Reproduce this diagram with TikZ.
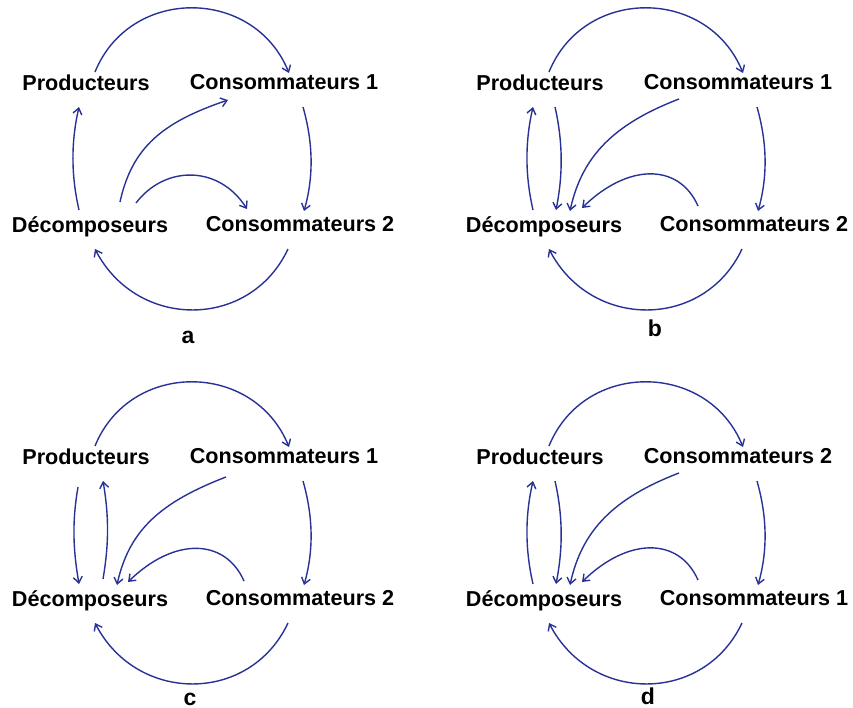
\documentclass[tikz,border=0pt]{standalone}
\usepackage{fontspec}
\setmainfont{Liberation Sans}
\usetikzlibrary{arrows.meta}
\definecolor{cyclebleu}{RGB}{40,50,150}

\begin{document}
\begin{tikzpicture}[x=0.5pt, y=0.5pt, >={Straight Barb[length=3pt,width=4.5pt]},
    etiq/.style={font=\bfseries\fontsize{10.8}{13}\selectfont, inner sep=0pt, text height=8pt, text depth=2.2pt},
    lettre/.style={font=\bfseries\fontsize{11.5}{13}\selectfont, inner sep=0pt},
    flux/.style={->, draw=cyclebleu, line width=0.7pt}]
    \useasboundingbox (0,0) rectangle (853,-708);

    % a
    \begin{scope}
        \node[etiq] (prodA) at (86,-85) {Producteurs};
        \node[etiq] (cons1A) at (284,-84) {Consommateurs 1};
        \node[etiq] (decA) at (90,-227) {Décomposeurs};
        \node[etiq] (cons2A) at (300,-226) {Consommateurs 2};
        \node[lettre] (labA) at (188,-337) {a};

        \draw[flux] ([shift={(9,13)}]prodA.center) .. controls +(35,86) and +(-35,86) .. ([shift={(5,11)}]cons1A.center);
        \draw[flux] ([shift={(19,-23)}]cons1A.center) .. controls +(10,-35) and +(10,35) .. ([shift={(4,15)}]cons2A.center);
        \draw[flux] ([shift={(-12,-23)}]cons2A.center) .. controls +(-38,-81) and +(42,-81) .. ([shift={(5,-22)}]decA.center);
        \draw[flux] ([shift={(-11,17)}]decA.center) .. controls +(-8,35) and +(-8,-35) .. ([shift={(-7,-22)}]prodA.center);
        \draw[flux] ([shift={(30,25)}]decA.center) .. controls +(12,55) and +(-65,-22) .. ([shift={(-56,-16)}]cons1A.center);
        \draw[flux] ([shift={(46,24)}]decA.center) .. controls +(29,38) and +(-28,44) .. ([shift={(-53,17)}]cons2A.center);
    \end{scope}

    % b
    \begin{scope}[shift={(454,0)}]
        \node[etiq] (prodB) at (86,-85) {Producteurs};
        \node[etiq] (cons1B) at (284,-84) {Consommateurs 1};
        \node[etiq] (decB) at (90,-227) {Décomposeurs};
        \node[etiq] (cons2B) at (300,-226) {Consommateurs 2};
        \node[lettre] (labB) at (201,-328) {b};

        \draw[flux] ([shift={(9,13)}]prodB.center) .. controls +(35,86) and +(-35,86) .. ([shift={(5,11)}]cons1B.center);
        \draw[flux] ([shift={(19,-23)}]cons1B.center) .. controls +(10,-35) and +(10,35) .. ([shift={(4,15)}]cons2B.center);
        \draw[flux] ([shift={(-12,-23)}]cons2B.center) .. controls +(-38,-81) and +(42,-81) .. ([shift={(5,-22)}]decB.center);
        \draw[flux] ([shift={(-11,17)}]decB.center) .. controls +(-8,35) and +(-8,-35) .. ([shift={(-7,-22)}]prodB.center);
        \draw[flux] ([shift={(15,-22)}]prodB.center) .. controls +(8,-35) and +(7,35) .. ([shift={(12,17)}]decB.center);
        \draw[flux] ([shift={(-59,-15)}]cons1B.center) .. controls +(-65,-25) and +(12,55) .. ([shift={(26,16)}]decB.center);
        \draw[flux] ([shift={(-56,20)}]cons2B.center) .. controls +(-19,43) and +(46,45) .. ([shift={(38,19)}]decB.center);
    \end{scope}

    % c
    \begin{scope}[shift={(0,-374)}]
        \node[etiq] (prodC) at (86,-85) {Producteurs};
        \node[etiq] (cons1C) at (284,-84) {Consommateurs 1};
        \node[etiq] (decC) at (90,-227) {Décomposeurs};
        \node[etiq] (cons2C) at (300,-226) {Consommateurs 2};
        \node[lettre] (labC) at (190,-325) {c};

        \draw[flux] ([shift={(9,13)}]prodC.center) .. controls +(35,86) and +(-35,86) .. ([shift={(5,11)}]cons1C.center);
        \draw[flux] ([shift={(19,-23)}]cons1C.center) .. controls +(10,-35) and +(10,35) .. ([shift={(4,15)}]cons2C.center);
        \draw[flux] ([shift={(-12,-23)}]cons2C.center) .. controls +(-38,-81) and +(42,-81) .. ([shift={(5,-22)}]decC.center);
        \draw[flux] ([shift={(-8,-28)}]prodC.center) .. controls +(-6,-35) and +(-6,35) .. ([shift={(-11,17)}]decC.center);
        \draw[flux] ([shift={(13,22)}]decC.center) .. controls +(6,35) and +(6,-35) .. ([shift={(17,-22)}]prodC.center);
        \draw[flux] ([shift={(-58,-19)}]cons1C.center) .. controls +(-65,-25) and +(12,55) .. ([shift={(27,16)}]decC.center);
        \draw[flux] ([shift={(-56,19)}]cons2C.center) .. controls +(-19,43) and +(46,45) .. ([shift={(38,19)}]decC.center);
    \end{scope}

    % d
    \begin{scope}[shift={(454,-374)}]
        \node[etiq] (prodD) at (86,-85) {Producteurs};
        \node[etiq] (cons2D) at (284,-84) {Consommateurs 2};
        \node[etiq] (decD) at (90,-227) {Décomposeurs};
        \node[etiq] (cons1D) at (300,-226) {Consommateurs 1};
        \node[lettre] (labD) at (194,-322) {d};

        \draw[flux] ([shift={(9,13)}]prodD.center) .. controls +(35,86) and +(-35,86) .. ([shift={(5,11)}]cons2D.center);
        \draw[flux] ([shift={(19,-23)}]cons2D.center) .. controls +(10,-35) and +(10,35) .. ([shift={(4,15)}]cons1D.center);
        \draw[flux] ([shift={(-12,-23)}]cons1D.center) .. controls +(-38,-81) and +(42,-81) .. ([shift={(5,-22)}]decD.center);
        \draw[flux] ([shift={(-11,17)}]decD.center) .. controls +(-8,35) and +(-8,-35) .. ([shift={(-7,-22)}]prodD.center);
        \draw[flux] ([shift={(15,-22)}]prodD.center) .. controls +(8,-35) and +(7,35) .. ([shift={(12,17)}]decD.center);
        \draw[flux] ([shift={(-59,-15)}]cons2D.center) .. controls +(-65,-25) and +(12,55) .. ([shift={(26,16)}]decD.center);
        \draw[flux] ([shift={(-56,20)}]cons1D.center) .. controls +(-19,43) and +(46,45) .. ([shift={(38,19)}]decD.center);
    \end{scope}
\end{tikzpicture}
\end{document}
